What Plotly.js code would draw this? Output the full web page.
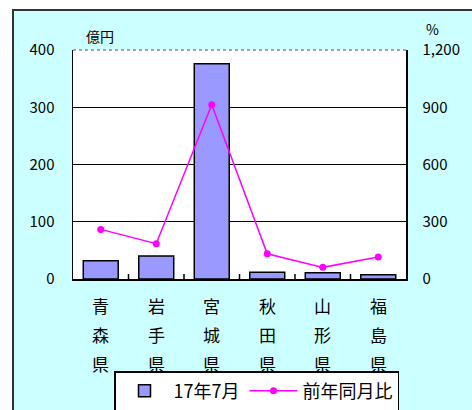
<!DOCTYPE html>
<html><head><meta charset="utf-8">
<script src="https://cdn.plot.ly/plotly-3.0.1.min.js"></script>
<style>html,body{margin:0;padding:0;background:#fff}#c{width:472px;height:410px}</style>
</head><body><div id="c"></div>
<script>
const categories = ["青森県","岩手県","宮城県","秋田県","山形県","福島県"];
const amount = [32, 40, 376, 12, 11, 7.5];          // 17年7月 (億円)
const ratio = [260, 185, 913, 132, 61, 115];         // 前年同月比 (%)
const leftTicks = [0, 100, 200, 300, 400];
const rightTicks = [0, 300, 600, 900, 1200];
const rightTickText = ["0", "300", "600", "900", "1,200"];
const seriesNames = ["17年7月", "前年同月比"];

const F = "'Noto Sans CJK JP', 'Noto Sans', sans-serif";
const plotH = 229, plotW = 333;

const annotations = [];
categories.forEach((c) => {
  [...c].forEach((ch, j) => {
    annotations.push({x: c, xref: 'x', yref: 'paper', y: -(305 - 279 + j * 29) / plotH,
      text: ch, showarrow: false, yanchor: 'middle', xanchor: 'center',
      font: {family: F, size: 17, color: '#000'}});
  });
});
annotations.push({xref: 'paper', yref: 'paper', x: (84 - 73) / plotW, y: (279 - 36) / plotH,
  text: '億円', showarrow: false, xanchor: 'left', yanchor: 'middle', font: {family: F, size: 14, color: '#000'}});
annotations.push({xref: 'paper', yref: 'paper', x: (424 - 73) / plotW, y: (279 - 29) / plotH,
  text: '%', showarrow: false, xanchor: 'left', yanchor: 'middle', font: {family: F, size: 14, color: '#000'}});

const data = [
  {type: 'bar', x: categories, y: amount, name: seriesNames[0], yaxis: 'y',
   marker: {color: '#9999ff', line: {color: '#000', width: 1.5}}},
  {type: 'scatter', mode: 'lines+markers', x: categories, y: ratio, name: seriesNames[1], yaxis: 'y2',
   line: {color: '#ff00ff', width: 1.5}, marker: {color: '#ff00ff', size: 7}}
];

// category boundary tick marks (drawn along the x axis, between categories)
const boundaryShapes = categories.slice(1).map((_, i) => ({
  type: 'line', xref: 'x', yref: 'paper', x0: i + 0.5, x1: i + 0.5, y0: 0, y1: 5 / plotH,
  line: {color: '#000', width: 1.5}
}));

const layout = {
  width: 472, height: 410,
  margin: {l: 73, r: 66, t: 50, b: 131, autoexpand: false},
  paper_bgcolor: '#ffffff', plot_bgcolor: '#ffffff',
  bargap: 0.37,
  showlegend: true,
  legend: {orientation: 'h', x: (114 - 73) / plotW, xanchor: 'left', y: -(371 - 279) / plotH, yanchor: 'top',
    bgcolor: '#ffffff', bordercolor: '#000', borderwidth: 1.5,
    font: {family: F, size: 18, color: '#000'}, itemwidth: 48, tracegroupgap: 0},
  xaxis: {type: 'category', showticklabels: false, ticks: '',
    showline: true, linecolor: '#000', linewidth: 1.5, showgrid: false, zeroline: false},
  yaxis: {range: [0, 400], tickvals: leftTicks, ticktext: leftTicks.map(String), showline: true, linecolor: '#000', linewidth: 1.5,
    showgrid: true, gridcolor: '#000', gridwidth: 1, zeroline: false, ticks: '', ticklabelstandoff: 14,
    tickfont: {family: F, size: 15, color: '#000'}},
  yaxis2: {range: [0, 1200], overlaying: 'y', side: 'right', tickvals: rightTicks, ticktext: rightTickText,
    showline: true, linecolor: '#000', linewidth: 1.5, showgrid: false, zeroline: false, ticks: '', ticklabelstandoff: 12,
    tickfont: {family: F, size: 15, color: '#000'}},
  annotations: annotations,
  shapes: [
    {type: 'rect', xref: 'paper', yref: 'paper', layer: 'below',
     x0: (13 - 73) / plotW, x1: (480 - 73) / plotW, y0: -(420 - 279) / plotH, y1: (279 - 10) / plotH,
     fillcolor: '#ccffff', line: {color: '#333', width: 2}},
    {type: 'rect', xref: 'paper', yref: 'paper', layer: 'below', x0: 0, x1: 1, y0: 0, y1: 1,
     fillcolor: '#ffffff', line: {width: 0}},
    {type: 'line', xref: 'paper', yref: 'paper', x0: 0, x1: 1, y0: 1, y1: 1,
     line: {color: '#888', width: 1.5, dash: 'dot'}}
  ].concat(boundaryShapes)
};

Plotly.newPlot('c', data, layout, {displayModeBar: false, staticPlot: true});
</script></body></html>
